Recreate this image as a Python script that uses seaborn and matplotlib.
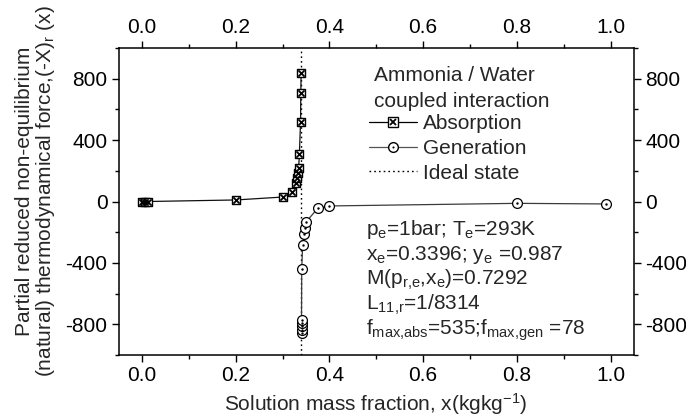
import matplotlib
matplotlib.use("Agg")
import matplotlib.pyplot as plt
import seaborn as sns
import pandas as pd
from matplotlib.lines import Line2D
from matplotlib.legend_handler import HandlerTuple
from matplotlib.ticker import AutoMinorLocator

# Absorption branch: solution mass fraction vs. reduced force
abs_x = [0.0, 0.007, 0.014, 0.2, 0.3, 0.320, 0.329, 0.331, 0.333, 0.3345, 0.336, 0.3385, 0.339, 0.3397]
abs_y = [0, 0, 0, 10, 29, 62, 123, 155, 188, 221, 312, 521, 709, 835]

# Generation branch
gen_x = [0.3405, 0.3405, 0.3405, 0.3405, 0.3405, 0.341, 0.343, 0.346, 0.348, 0.350, 0.375, 0.400, 0.80, 0.99]
gen_y = [-858, -836, -814, -792, -770, -439, -284, -210, -171, -134, -45, -29, -12, -16]

# Ideal (equilibrium) state
x_ideal = 0.3396

x_ticks = [0.0, 0.2, 0.4, 0.6, 0.8, 1.0]
y_ticks = [-800, -400, 0, 400, 800]

info_lines = [
    r"p$_\mathrm{e}$=1bar; T$_\mathrm{e}$=293K",
    r"x$_\mathrm{e}$=0.3396; y$_\mathrm{e}$ =0.987",
    r"M(p$_\mathrm{r{,}e}$,x$_\mathrm{e}$)=0.7292",
    r"L$_\mathrm{11{,}r}$=1/8314",
    r"f$_\mathrm{max{,}abs}$=535;f$_\mathrm{max{,}gen}$ =78",
]

sns.set_theme(style="ticks")
plt.rcParams["font.family"] = ["Liberation Sans", "DejaVu Sans"]
plt.rcParams["mathtext.default"] = "regular"
plt.rcParams["mathtext.fontset"] = "custom"
plt.rcParams["mathtext.rm"] = "Liberation Sans"
FS = 15

W, H = 686, 419
fig = plt.figure(figsize=(W / 100, H / 100), dpi=100)
ax = fig.add_axes([118.5 / W, 1 - 355 / H, (634 - 118.5) / W, (355 - 48) / H])

df_abs = pd.DataFrame({"x": abs_x, "y": abs_y})
df_gen = pd.DataFrame({"x": gen_x, "y": gen_y})

sns.lineplot(data=df_abs, x="x", y="y", estimator=None, sort=False, ax=ax,
             color="#111111", linewidth=0.9)
sns.lineplot(data=df_gen, x="x", y="y", estimator=None, sort=False, ax=ax,
             color="#3a3a3a", linewidth=0.9)

# crossed squares
sns.scatterplot(data=df_abs, x="x", y="y", ax=ax, marker="s", s=40,
                facecolor="white", edgecolor="black", linewidth=1.0, zorder=3)
sns.scatterplot(data=df_abs, x="x", y="y", ax=ax, marker="x", s=20,
                color="black", linewidth=1.3, zorder=4)
# dotted circles
sns.scatterplot(data=df_gen, x="x", y="y", ax=ax, marker="o", s=50,
                facecolor="white", edgecolor="black", linewidth=0.9, zorder=3)
sns.scatterplot(data=df_gen, x="x", y="y", ax=ax, marker="o", s=3,
                color="black", linewidth=0, zorder=4)

ax.axvline(x_ideal, color="black", linestyle=(0, (1.2, 2.2)), linewidth=1.0, zorder=1)

ax.set_xlim(-0.05, 1.05)
ax.set_ylim(-1000, 1000)
ax.set_xticks(x_ticks)
ax.set_yticks(y_ticks)
ax.set_xticklabels([f"{v:.1f}" for v in x_ticks])
ax.set_yticklabels([str(v) for v in y_ticks])
ax.xaxis.set_minor_locator(AutoMinorLocator(2))
ax.yaxis.set_minor_locator(AutoMinorLocator(2))
ax.tick_params(which="both", direction="out", top=True, right=True,
               labeltop=True, labelright=True, labelsize=FS, colors="black",
               width=1.0, pad=3)
ax.tick_params(which="major", length=5)
ax.tick_params(which="minor", length=3)
for sp in ax.spines.values():
    sp.set_linewidth(1.1)
    sp.set_color("black")

ax.set_ylabel("")
ax.set_xlabel("")
fig.text(376 / W, 1 - 411 / H, r"Solution mass fraction, x(kgkg$^{-1}$)",
         fontsize=FS, ha="center", va="baseline")
fig.text(36 / W, 1 - 191 / H,
         "Partial reduced non-equilibrium\n"
         r"(natural) thermodynamical force,(-X)$_\mathrm{r}$ (x)",
         fontsize=FS, rotation=90, ha="center", va="center",
         multialignment="center", linespacing=1.0)

# legend
h_abs = (Line2D([], [], color="black", lw=0.9, marker="s", markersize=6.5,
                markerfacecolor="white", markeredgecolor="black"),
         Line2D([], [], color="none", marker="x", markersize=4.5,
                markeredgecolor="black", markeredgewidth=1.3))
h_gen = (Line2D([], [], color="#555555", lw=0.9, marker="o", markersize=7,
                markerfacecolor="white", markeredgecolor="black"),
         Line2D([], [], color="none", marker="o", markersize=1.5,
                markerfacecolor="black", markeredgewidth=0))
h_ideal = Line2D([], [], color="black", lw=1.0, linestyle=(0, (1.2, 2.2)))
leg = ax.legend([h_abs, h_gen, h_ideal], ["Absorption", "Generation", "Ideal state"],
                handler_map={tuple: HandlerTuple(ndivide=1, pad=0)},
                loc="upper left", bbox_to_anchor=(369 / W, 1 - 114 / H),
                bbox_transform=fig.transFigure, frameon=False, fontsize=FS,
                borderpad=0, borderaxespad=0, handlelength=2.3,
                handletextpad=0.29, labelspacing=0.28)

fig.text(374 / W, 1 - 81 / H, "Ammonia / Water", fontsize=FS, va="baseline")
fig.text(374 / W, 1 - 106.7 / H, "coupled interaction", fontsize=FS, va="baseline")

for i, s in enumerate(info_lines):
    fig.text(366 / W, 1 - (235 + 24.9 * i) / H, s, fontsize=FS, va="baseline")

fig.savefig("out.png", dpi=100)
